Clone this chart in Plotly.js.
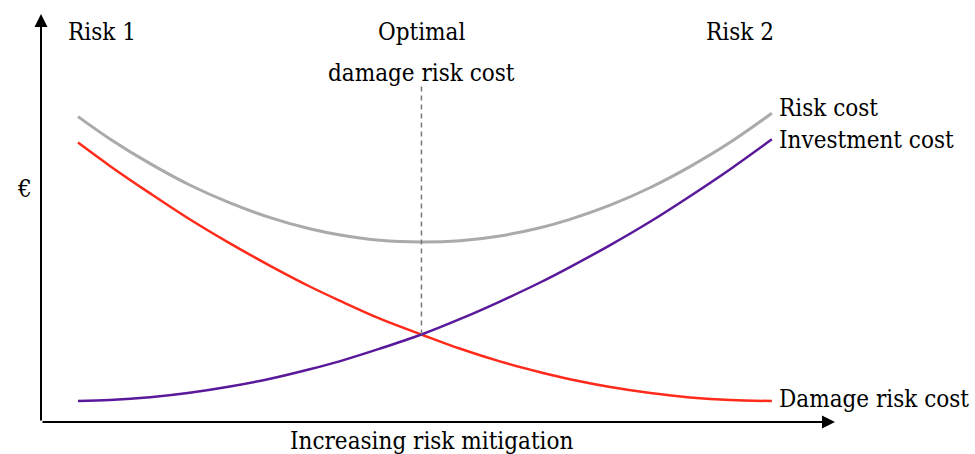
<!DOCTYPE html>
<html>
<head>
<meta charset="utf-8">
<script src="https://cdn.plot.ly/plotly-3.0.1.min.js"></script>
<style>html,body{margin:0;padding:0;background:#fff;}#chart{width:975px;height:454px;}</style>
</head>
<body>
<div id="chart"></div>
<script>
// Mitigation level (x) and cost (y)
const mitigation = [0, 4.6, 10.4, 16.1, 21.9, 27.7, 33.4, 37.8, 43.5, 49.5, 55.1, 60.8, 66.6, 70.9, 76.7, 82.5, 88.2, 94.0, 100];
const riskCost = [74.85, 69.39, 63.33, 58.09, 53.70, 50.10, 47.35, 45.83, 44.53, 44.12, 44.44, 45.61, 47.62, 49.68, 53.16, 57.48, 62.60, 68.55, 75.66];
const damageRiskCost = [68.48, 62.77, 56.03, 49.68, 43.77, 38.28, 33.21, 29.68, 25.34, 21.45, 17.94, 14.85, 12.21, 10.49, 8.58, 7.11, 6.03, 5.37, 5.15];
const investmentCost = [5.15, 5.39, 6.08, 7.18, 8.70, 10.59, 12.92, 14.93, 17.97, 21.45, 25.27, 29.53, 34.19, 37.97, 43.36, 49.14, 55.34, 61.96, 69.29];
const optimalX = [49.5, 49.5];
const optimalY = [21.45, 83.0];

const seriesNames = ['Risk cost', 'Investment cost', 'Damage risk cost'];
const topLabels = ['Risk 1', 'Optimal', 'Risk 2'];
const optimalSubLabel = 'damage risk cost';
const yLabel = '€';
const xLabel = 'Increasing risk mitigation';

const FONT = '"DejaVu Serif Condensed", "DejaVu Serif", serif';
const FS = 24;

const traces = [
  {x: mitigation, y: riskCost, mode: 'lines', line: {color: '#aaaaaa', width: 3, shape: 'spline'}, name: seriesNames[0]},
  {x: mitigation, y: damageRiskCost, mode: 'lines', line: {color: '#ff2a1a', width: 2.5, shape: 'spline'}, name: seriesNames[2]},
  {x: mitigation, y: investmentCost, mode: 'lines', line: {color: '#5a189a', width: 2.5, shape: 'spline'}, name: seriesNames[1]},
  {x: optimalX, y: optimalY, mode: 'lines', line: {color: '#777777', width: 1.5, dash: '5px,4px'}, name: 'optimal'}
];

// plot area: left 41, top 14, width 794, height 408
const L = 41, T = 14, W = 794, H = 408;
const px = v => (v - L) / W;
const py = v => (T + H - v) / H;
function lab(text, x, y, xanchor) {
  return {text: text, xref: 'paper', yref: 'paper', x: px(x), y: py(y), xanchor: xanchor || 'center', yanchor: 'middle',
          showarrow: false, font: {family: FONT, size: FS, color: '#000'}};
}
const annotations = [
  lab(topLabels[0], 102, 32),
  lab(topLabels[1], 421, 32),
  lab(topLabels[2], 739.5, 32),
  lab(optimalSubLabel, 421, 73),
  lab(seriesNames[0], 777, 108, 'left'),
  lab(seriesNames[1], 777, 140, 'left'),
  lab(seriesNames[2], 777, 399, 'left'),
  lab(yLabel, 24, 189),
  lab(xLabel, 431, 441),
  // axis arrows
  {xref: 'paper', yref: 'paper', x: 0, y: 1, ax: 0, ay: H, axref: 'pixel', ayref: 'pixel', text: '', showarrow: true,
   arrowhead: 2, arrowsize: 1.3, arrowwidth: 2, arrowcolor: '#000'},
  {xref: 'paper', yref: 'paper', x: 1, y: 0, ax: -W, ay: 0, axref: 'pixel', ayref: 'pixel', text: '', showarrow: true,
   arrowhead: 2, arrowsize: 1.3, arrowwidth: 2, arrowcolor: '#000'}
];

const layout = {
  width: 975, height: 454,
  margin: {l: L, r: 975 - L - W, t: T, b: 454 - T - H, pad: 0},
  paper_bgcolor: '#fff', plot_bgcolor: '#fff',
  showlegend: false,
  xaxis: {range: [-5.33, 109.1], visible: false, fixedrange: true},
  yaxis: {range: [0, 100], visible: false, fixedrange: true},
  annotations: annotations
};

Plotly.newPlot('chart', traces, layout, {staticPlot: true, displayModeBar: false});
</script>
</body>
</html>
